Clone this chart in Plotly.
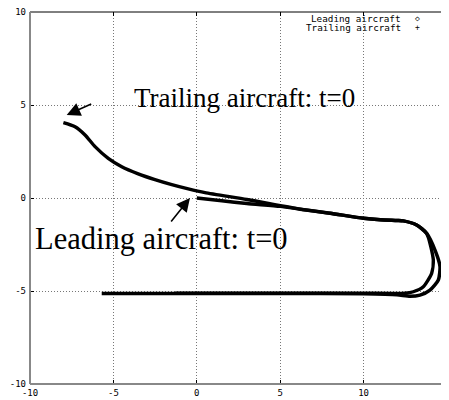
import plotly.graph_objects as go

# Leading aircraft trajectory
lead_x = [0.0, 1.5, 3.0, 5.0, 6.2, 8.0, 10.0, 11.0, 12.0, 12.38, 13.18, 13.78, 14.28, 14.58, 14.48, 13.98, 13.38, 12.78, 12.0, 10.0, 5.0, 0.0, -5.7]
lead_y = [0.0, -0.15, -0.30, -0.45, -0.60, -0.82, -1.09, -1.17, -1.21, -1.23, -1.45, -1.90, -2.80, -3.69, -4.41, -4.95, -5.22, -5.28, -5.20, -5.15, -5.13, -5.13, -5.14]

# Trailing aircraft trajectory
trail_x = [-8.0, -7.3, -6.7, -6.1, -5.31, -4.5, -3.51, -2.51, -1.5, -0.51, 0.49, 3.0, 6.2, 8.0, 10.0, 11.0, 12.0, 12.38, 13.18, 13.78, 14.18, 14.08, 13.58, 12.98, 12.48, 10.0, 5.0, 0.0, -1.3]
trail_y = [4.05, 3.83, 3.39, 2.76, 2.13, 1.68, 1.30, 0.99, 0.72, 0.49, 0.29, -0.08, -0.60, -0.82, -1.09, -1.17, -1.21, -1.23, -1.45, -1.90, -3.33, -4.05, -4.77, -5.04, -5.12, -5.12, -5.12, -5.12, -5.12]

x_ticks = [-10, -5, 0, 5, 10, 15]
y_ticks = [-10, -5, 0, 5, 10]
series_names = ["Leading aircraft", "Trailing aircraft"]
legend_symbols = ["\u25c7", "+"]

mono = "DejaVu Sans Mono"
serif = "Liberation Serif"

fig = go.Figure()
fig.add_trace(go.Scatter(x=lead_x, y=lead_y, mode="lines", name=series_names[0],
                         line=dict(color="black", width=3.5, shape="spline", smoothing=0.6),
                         showlegend=False))
fig.add_trace(go.Scatter(x=trail_x, y=trail_y, mode="lines", name=series_names[1],
                         line=dict(color="black", width=3.4, shape="spline", smoothing=0.6),
                         showlegend=False))

ann = []
# legend (gnuplot style: text right, symbol after)
for i, (nm, sym) in enumerate(zip(series_names, legend_symbols)):
    yy = 1 - (18.3 + 9 * i - 12) / 372
    ann.append(dict(xref="paper", yref="paper", x=(402 - 30) / 417, y=yy,
                    text=nm, showarrow=False, xanchor="right", yanchor="middle", borderpad=0,
                    font=dict(family=mono, size=9.3, color="black")))
    ann.append(dict(xref="paper", yref="paper", x=(417.3 - 30) / 417, y=yy,
                    text=sym, showarrow=False, xanchor="center", yanchor="middle", borderpad=0,
                    font=dict(family=mono, size=8, color="black")))

# labels
ann.append(dict(x=-3.885, y=5.38, xref="x", yref="y", text="Trailing aircraft: t=0",
                showarrow=False, xanchor="left", yanchor="middle",
                font=dict(family=serif, size=27, color="black")))
ann.append(dict(x=-9.82, y=-2.20, xref="x", yref="y", text="Leading aircraft: t=0",
                showarrow=False, xanchor="left", yanchor="middle",
                font=dict(family=serif, size=30.5, color="black")))
# arrows
ann.append(dict(x=-7.8, y=4.46, ax=-6.24, ay=5.09, xref="x", yref="y", axref="x", ayref="y",
                text="", showarrow=True, arrowhead=2, arrowsize=1.7, arrowwidth=1.6, arrowcolor="black",
                standoff=0, startstandoff=0))
ann.append(dict(x=-0.41, y=0.0, ax=-1.61, ay=-1.34, xref="x", yref="y", axref="x", ayref="y",
                text="", showarrow=True, arrowhead=2, arrowsize=1.7, arrowwidth=1.6, arrowcolor="black",
                standoff=0, startstandoff=0))

shapes = [
    dict(type="line", xref="paper", yref="paper", x0=0, x1=1, y0=1, y1=1, line=dict(color="black", width=1)),
    dict(type="line", xref="paper", yref="paper", x0=0, x1=1, y0=0, y1=0, line=dict(color="#888888", width=2)),
    dict(type="line", xref="paper", yref="paper", x0=0, x1=0, y0=0, y1=1, line=dict(color="#888888", width=2)),
    dict(type="line", xref="paper", yref="paper", x0=1, x1=1, y0=0, y1=1, line=dict(color="#888888", width=2)),
]

axis_common = dict(showgrid=True, gridcolor="#777777", griddash="1px,2px", gridwidth=1,
                   zeroline=False, showline=False, ticks="inside", ticklen=4, tickcolor="black",
                   mirror="allticks", automargin=False, ticklabeloverflow="allow",
                   tickfont=dict(family=mono, size=9, color="black"))

# page body has an 8px default margin, so the figure is sized/offset to compensate
fig.update_layout(
    width=441, height=392,
    margin=dict(l=22, r=2, t=4, b=16, autoexpand=False),
    paper_bgcolor="white", plot_bgcolor="white",
    xaxis=dict(range=[-10, 15], tickvals=x_ticks, ticktext=[str(v) for v in x_ticks],
               ticklabelstandoff=2, **axis_common),
    yaxis=dict(range=[-10, 10], tickvals=y_ticks, ticktext=[str(v) for v in y_ticks],
               ticklabelstandoff=3, **axis_common),
    annotations=ann, shapes=shapes, showlegend=False,
)

fig.write_html("out.html")
